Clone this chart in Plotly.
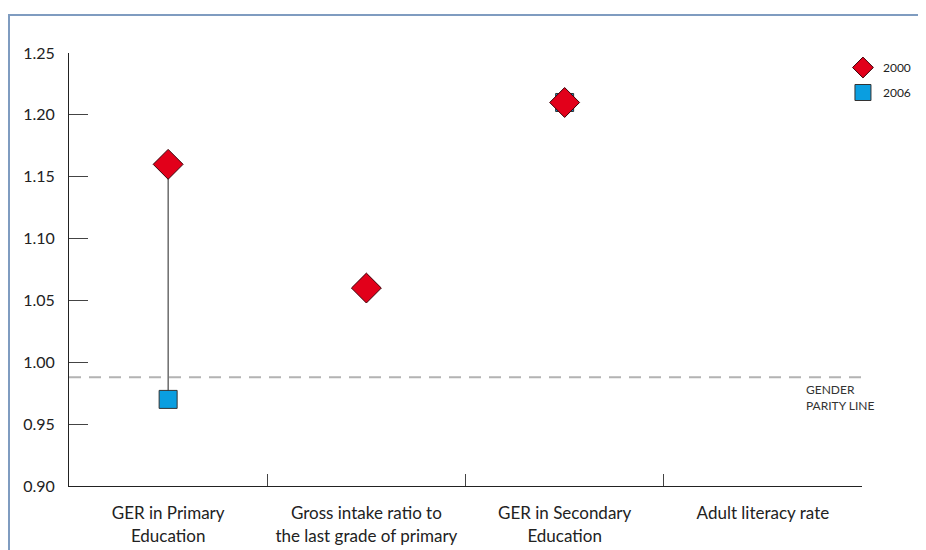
import plotly.graph_objects as go

categories = ["GER in Primary<br>Education", "Gross intake ratio to<br>the last grade of primary",
              "GER in Secondary<br>Education", "Adult literacy rate"]
values_2000 = [1.16, 1.06, 1.21, None]
values_2006 = [0.97, None, 1.21, None]
parity_value = 0.988
y_ticks = [0.90, 0.95, 1.00, 1.05, 1.10, 1.15, 1.20, 1.25]

FONT = "Lato, Open Sans, sans-serif"

L, T, PW, PH = 61, 45, 793, 433

fig = go.Figure()

# connecting line for GER Primary (2000 -> 2006)
fig.add_trace(go.Scatter(
    x=[categories[0], categories[0]], y=[values_2000[0], values_2006[0]],
    mode="lines", line=dict(color="#222222", width=1), showlegend=False, hoverinfo="skip"))

fig.add_trace(go.Scatter(
    x=categories, y=values_2006, mode="markers", name="2006", legendgroup="b", legendrank=2,
    marker=dict(symbol="square", size=18, color="#0a9ee0", line=dict(color="#333333", width=1))))

fig.add_trace(go.Scatter(
    x=categories, y=values_2000, mode="markers", name="2000", legendgroup="a", legendrank=1,
    marker=dict(symbol="diamond", size=23, color="#e2001a", line=dict(color="#3a0008", width=1))))

fig.add_shape(type="line", xref="paper", x0=0, x1=1, yref="y", y0=parity_value, y1=parity_value,
              line=dict(color="#b3b3b3", width=2, dash="12px,8px"))
fig.add_annotation(text="GENDER<br>PARITY LINE", xref="paper", x=(804 - 69) / PW, xanchor="left",
                   yref="y", y=parity_value, yanchor="top", yshift=-3, showarrow=False, align="left",
                   font=dict(family=FONT, size=12, color="#333333"))

# frame
fig.add_shape(type="path", xref="paper", yref="paper",
              path="M %f,%f L %f,%f L %f,%f" % ((9 - 69) / PW, -0.3, (9 - 69) / PW, 1 + 38 / PH,
                                                  1.2, 1 + 38 / PH),
              line=dict(color="#7f9cc0", width=2))

fig.update_layout(
    width=926, height=550,
    margin=dict(l=L, r=926 - L - PW, t=T, b=550 - T - PH),
    paper_bgcolor="white", plot_bgcolor="white",
    font=dict(family=FONT, color="#222222"),
    legend=dict(x=0.976, y=1.0, xanchor="left", yanchor="top", traceorder="grouped",
                font=dict(size=12, color="#222222"), bgcolor="rgba(0,0,0,0)", itemwidth=30,
                tracegroupgap=6),
    xaxis=dict(type="category", categoryorder="array", categoryarray=categories,
               range=[-0.5, 3.5], tickson="boundaries", ticks="inside", ticklen=12,
               tickcolor="#444444", showline=True, linecolor="#222222", linewidth=1,
               showgrid=False, zeroline=False, tickangle=0, automargin=False,
               ticklabelstandoff=12, tickfont=dict(size=17, color="#222222")),
    yaxis=dict(range=[0.90, 1.25], tickvals=y_ticks, tickformat=".2f", ticks="inside",
               ticklen=19, tickcolor="#444444", showline=True, linecolor="#222222", linewidth=1,
               showgrid=False, zeroline=False, automargin=False, ticklabelstandoff=10,
               tickfont=dict(size=16, color="#222222")),
)

fig.write_html("out.html")
